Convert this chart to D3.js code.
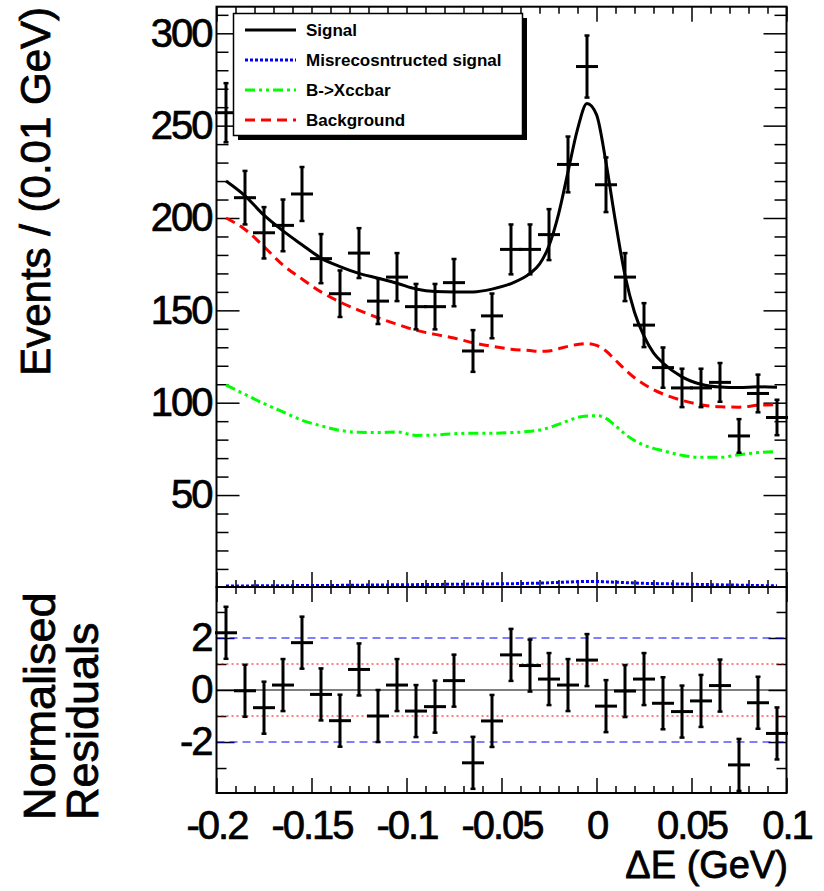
<!DOCTYPE html>
<html>
<head>
<meta charset="utf-8">
<script src="https://cdn.jsdelivr.net/npm/d3@7/dist/d3.min.js"></script>
<style>
    body { margin: 0; background: #fff; }
    #chart { width: 824px; height: 891px; }
    text { font-family: "Liberation Sans", Arial, Helvetica, sans-serif; }
</style>
</head>
<body>
<div id="chart"></div>
<script>

/*
DATA
Delta E fit with residuals, bins of 0.01 GeV
*/
const binCentres = [-0.195, -0.185, -0.175, -0.165, -0.155, -0.145, -0.135, -0.125, -0.115, -0.105,
    -0.095, -0.085, -0.075, -0.065, -0.055, -0.045, -0.035, -0.025, -0.015, -0.005,
    0.005, 0.015, 0.025, 0.035, 0.045, 0.055, 0.065, 0.075, 0.085, 0.095];
const events = [257, 211, 192, 196, 213, 178, 159, 181, 155, 168,
    152, 152, 165, 128, 147, 183, 183, 191, 229, 282,
    218, 168, 142, 119, 108, 108, 111, 82, 105, 92];
const eventErrors = [16.0, 14.5, 13.9, 14.0, 14.6, 13.3, 12.6, 13.5, 12.4, 13.0,
    12.3, 12.3, 12.8, 11.3, 12.1, 13.5, 13.5, 13.8, 15.1, 16.8,
    14.8, 13.0, 11.9, 10.9, 10.4, 10.4, 10.5, 9.1, 10.2, 9.6];
const residuals = [2.20, -0.03, -0.68, 0.19, 1.82, -0.17, -1.18, 0.79, -1.00, 0.19,
    -0.81, -0.64, 0.36, -2.80, -1.19, 1.35, 0.94, 0.42, 0.19, 1.15,
    -0.62, -0.04, 0.42, -0.51, -0.83, -0.42, 0.17, -2.88, -0.49, -1.67];
const residualError = 1;

// fit components, sampled along Delta E
const curveX = [-0.195, -0.185, -0.175, -0.165, -0.155, -0.145, -0.135, -0.125, -0.115, -0.105,
    -0.095, -0.085, -0.075, -0.065, -0.055, -0.045, -0.035, -0.03, -0.025, -0.02,
    -0.015, -0.01, -0.005, 0, 0.005, 0.01, 0.015, 0.02, 0.025, 0.03,
    0.035, 0.045, 0.055, 0.065, 0.075, 0.085, 0.095];
const signalCurve = [220, 212, 201.5, 193, 185.5, 178.3, 173.7, 170, 167.4, 164.7,
    161.6, 160.2, 160, 160, 161.5, 164.5, 170, 175, 185, 202,
    225, 248, 262, 256, 230, 198, 169, 149, 136, 127,
    121.5, 114, 110, 108.5, 108.2, 108.6, 108.3];
const misrecoCurve = [0.8, 0.8, 0.9, 0.9, 1.0, 1.0, 1.1, 1.2, 1.3, 1.4,
    1.5, 1.6, 1.7, 1.8, 1.9, 2.0, 2.2, 2.3, 2.5, 2.7,
    2.9, 3.1, 3.2, 3.2, 3.0, 2.8, 2.6, 2.4, 2.2, 2.1,
    2.0, 1.8, 1.6, 1.4, 1.2, 1.0, 0.9];
const xccbarCurve = [109.6, 104.5, 99.5, 95, 90.5, 87.5, 85, 84, 83.8, 84.2,
    82.3, 82.5, 83.2, 83.5, 83.5, 83.8, 84.5, 85.2, 86.5, 88.3,
    90.2, 92, 92.8, 93, 91.5, 87.5, 83, 79.5, 77, 75.3,
    74, 71.5, 70.4, 70.4, 71.8, 73, 73.5];
const backgroundCurve = [200, 193.8, 184.5, 174.5, 167, 160, 154.5, 150, 146, 142.5,
    139.2, 137, 135, 132.5, 130.5, 129, 128.2, 127.8, 128, 129.2,
    130.5, 131.5, 132, 131, 128, 123, 118, 113.5, 110, 107,
    104.7, 101.3, 98.9, 97.8, 97.6, 98.6, 99];

// axes
const xMajor = [-0.2, -0.15, -0.1, -0.05, 0, 0.05, 0.1];
const xTickLabels = ["-0.2", "-0.15", "-0.1", "-0.05", "0", "0.05", "0.1"];
const yMajor = [50, 100, 150, 200, 250, 300];
const resMajor = [-2, 0, 2];
const resMinor = [-3, -1, 1, 3];

const legendLabels = ["Signal", "Misrecosntructed signal", "B->Xccbar", "Background"];


/*
SVG CANVAS AND PANEL GEOMETRY
*/
const width = 824;
const height = 891;
const svg = d3.select("#chart")
    .append("svg")
    .attr("width", width)
    .attr("height", height);

const left = 216.5, right = 786.5;
const topY = 6.7, splitY = 587, bottomY = 793;

const x = d3.scaleLinear().domain([-0.2, 0.1]).range([left, right]);
const y = d3.scaleLinear().domain([0, 314.4]).range([587.4, topY]);
const yRes = d3.scaleLinear().domain([-3.96, 3.96]).range([bottomY, splitY]);

const xMinor = d3.range(-20, 11).map(d => d / 100).filter(d => !xMajor.some(m => Math.abs(m - d) < 1e-9));
const yMinor = d3.range(10, 320, 10).filter(d => d % 50 !== 0);

const labelSize = 40;

/* helper: draw an axis, remove the spine and style ticks/labels */
function drawAxis(axis, tx, ty) {
    const g = svg.append("g")
        .attr("transform", `translate(${tx},${ty})`)
        .call(axis);
    g.select(".domain").remove();
    g.selectAll("line").attr("stroke", "#000").attr("stroke-width", 1.5);
    g.selectAll("text")
        .attr("fill", "#000")
        .attr("stroke", "#000")
        .attr("stroke-width", 0.7)
        .style("font-size", labelSize + "px")
        .style("letter-spacing", "-2px");
    g.attr("font-family", null);
    return g;
}

/*
TOP PANEL AXES
*/
drawAxis(d3.axisLeft(y).tickValues(yMajor).tickSize(-23).tickPadding(5).tickFormat(d => String(d)), left, 0);
drawAxis(d3.axisLeft(y).tickValues(yMinor).tickSize(-12).tickFormat(""), left, 0);
drawAxis(d3.axisRight(y).tickValues(yMajor).tickSize(-23).tickFormat(""), right, 0);
drawAxis(d3.axisRight(y).tickValues(yMinor).tickSize(-12).tickFormat(""), right, 0);
drawAxis(d3.axisTop(x).tickValues(xMajor).tickSize(-15).tickFormat(""), 0, topY);
drawAxis(d3.axisTop(x).tickValues(xMinor).tickSize(-7).tickFormat(""), 0, topY);
drawAxis(d3.axisBottom(x).tickValues(xMajor).tickSize(-15).tickFormat(""), 0, splitY);
drawAxis(d3.axisBottom(x).tickValues(xMinor).tickSize(-7).tickFormat(""), 0, splitY);

/*
RESIDUAL PANEL AXES
*/
drawAxis(d3.axisLeft(yRes).tickValues(resMajor).tickSize(-18).tickPadding(5).tickFormat(d => String(d)), left, 0);
drawAxis(d3.axisLeft(yRes).tickValues(resMinor).tickSize(-10).tickFormat(""), left, 0);
drawAxis(d3.axisRight(yRes).tickValues(resMajor).tickSize(-18).tickFormat(""), right, 0);
drawAxis(d3.axisRight(yRes).tickValues(resMinor).tickSize(-10).tickFormat(""), right, 0);
drawAxis(d3.axisTop(x).tickValues(xMajor).tickSize(-15).tickFormat(""), 0, splitY);
drawAxis(d3.axisTop(x).tickValues(xMinor).tickSize(-7).tickFormat(""), 0, splitY);
drawAxis(d3.axisBottom(x).tickValues(xMajor).tickSize(-15).tickPadding(18).tickFormat((d, i) => xTickLabels[i]), 0, bottomY);
drawAxis(d3.axisBottom(x).tickValues(xMinor).tickSize(-7).tickFormat(""), 0, bottomY);

/* reference lines in the residual panel */
const refLines = [
    { v: 2, color: "#0000ff", dash: "8,5" },
    { v: -2, color: "#0000ff", dash: "8,5" },
    { v: 1, color: "#ff0000", dash: "2,3" },
    { v: -1, color: "#ff0000", dash: "2,3" },
    { v: 0, color: "#000", dash: null }
];
svg.append("g")
    .selectAll("line")
    .data(refLines)
    .enter()
    .append("line")
        .attr("x1", left)
        .attr("x2", right)
        .attr("y1", d => yRes(d.v))
        .attr("y2", d => yRes(d.v))
        .attr("stroke", d => d.color)
        .attr("stroke-width", 1.2)
        .attr("stroke-dasharray", d => d.dash);

/*
FIT CURVES
*/
const curves = [
    { values: misrecoCurve, color: "#0000ff", dash: "3,2" },
    { values: xccbarCurve, color: "#00ff00", dash: "10,4,3,4,3,4" },
    { values: backgroundCurve, color: "#ff0000", dash: "10,6" },
    { values: signalCurve, color: "#000", dash: null }
];
const line = d3.line()
    .x(d => x(d[0]))
    .y(d => y(d[1]))
    .curve(d3.curveMonotoneX);

svg.append("g")
    .selectAll("path")
    .data(curves)
    .enter()
    .append("path")
        .attr("d", d => line(curveX.map((cx, i) => [cx, d.values[i]])))
        .attr("fill", "none")
        .attr("stroke", d => d.color)
        .attr("stroke-width", 3)
        .attr("stroke-dasharray", d => d.dash);

/*
DATA POINTS (crosses with error bars)
*/
function drawCrosses(values, errors, yScale) {
    const g = svg.append("g")
        .attr("stroke", "#000")
        .attr("stroke-width", 3);
    binCentres.forEach((c, i) => {
        const e = Array.isArray(errors) ? errors[i] : errors;
        const cx = x(c);
        const y1 = yScale(values[i] - e), y2 = yScale(values[i] + e);
        g.append("line")
            .attr("x1", x(c - 0.005)).attr("x2", x(c + 0.005))
            .attr("y1", yScale(values[i])).attr("y2", yScale(values[i]))
            .attr("stroke-linecap", "square");
        g.append("line")
            .attr("x1", cx).attr("x2", cx)
            .attr("y1", y1).attr("y2", y2);
        [y1, y2].forEach(yy => {
            g.append("line")
                .attr("x1", cx - 2.5).attr("x2", cx + 2.5)
                .attr("y1", yy).attr("y2", yy)
                .attr("stroke-width", 2.5);
        });
    });
}
drawCrosses(events, eventErrors, y);
drawCrosses(residuals, residualError, yRes);

/*
FRAMES
*/
svg.append("rect")
    .attr("x", left).attr("y", topY)
    .attr("width", right - left).attr("height", splitY - topY)
    .attr("fill", "none").attr("stroke", "#000").attr("stroke-width", 2);
svg.append("rect")
    .attr("x", left).attr("y", splitY)
    .attr("width", right - left).attr("height", bottomY - splitY)
    .attr("fill", "none").attr("stroke", "#000").attr("stroke-width", 2);

/*
AXIS TITLES
*/
const titles = svg.append("g")
    .attr("fill", "#000")
    .attr("stroke", "#000")
    .attr("stroke-width", 0.8);

titles.append("text")
    .attr("transform", "translate(50,7) rotate(-90)")
    .attr("text-anchor", "end")
    .style("font-size", "42px")
    .text("Events / (0.01 GeV)");

titles.append("text")
    .attr("transform", "translate(55,820) rotate(-90)")
    .style("font-size", "45px")
    .text("Normalised");
titles.append("text")
    .attr("transform", "translate(98,820) rotate(-90)")
    .style("font-size", "45px")
    .text("Residuals");

titles.append("text")
    .attr("x", 788)
    .attr("y", 878)
    .attr("text-anchor", "end")
    .style("font-size", "38px")
    .text("\u0394E (GeV)");

/*
LEGEND
*/
const legend = svg.append("g");
legend.append("rect")
    .attr("x", 238).attr("y", 18)
    .attr("width", 289).attr("height", 122)
    .attr("fill", "#000");
legend.append("rect")
    .attr("x", 233.5).attr("y", 13.5)
    .attr("width", 289).attr("height", 122)
    .attr("fill", "#fff").attr("stroke", "#000").attr("stroke-width", 1.5);

const rowY = d3.scaleBand().domain(legendLabels).range([15, 135]);
const entry = legend.selectAll(".entry")
    .data(curves.slice().reverse().map((c, i) => ({ label: legendLabels[[0, 3, 2, 1][i]], c: c })))
    .enter()
    .append("g")
        .attr("transform", d => `translate(0,${rowY(d.label) + rowY.bandwidth() / 2})`);
entry.append("line")
    .attr("x1", 245).attr("x2", 296)
    .attr("stroke", d => d.c.color)
    .attr("stroke-width", 3)
    .attr("stroke-dasharray", d => d.c.dash);
entry.append("text")
    .attr("x", 306)
    .attr("y", 6)
    .style("font-size", "17px")
    .style("font-weight", "bold")
    .text(d => d.label);

</script>
</body>
</html>
